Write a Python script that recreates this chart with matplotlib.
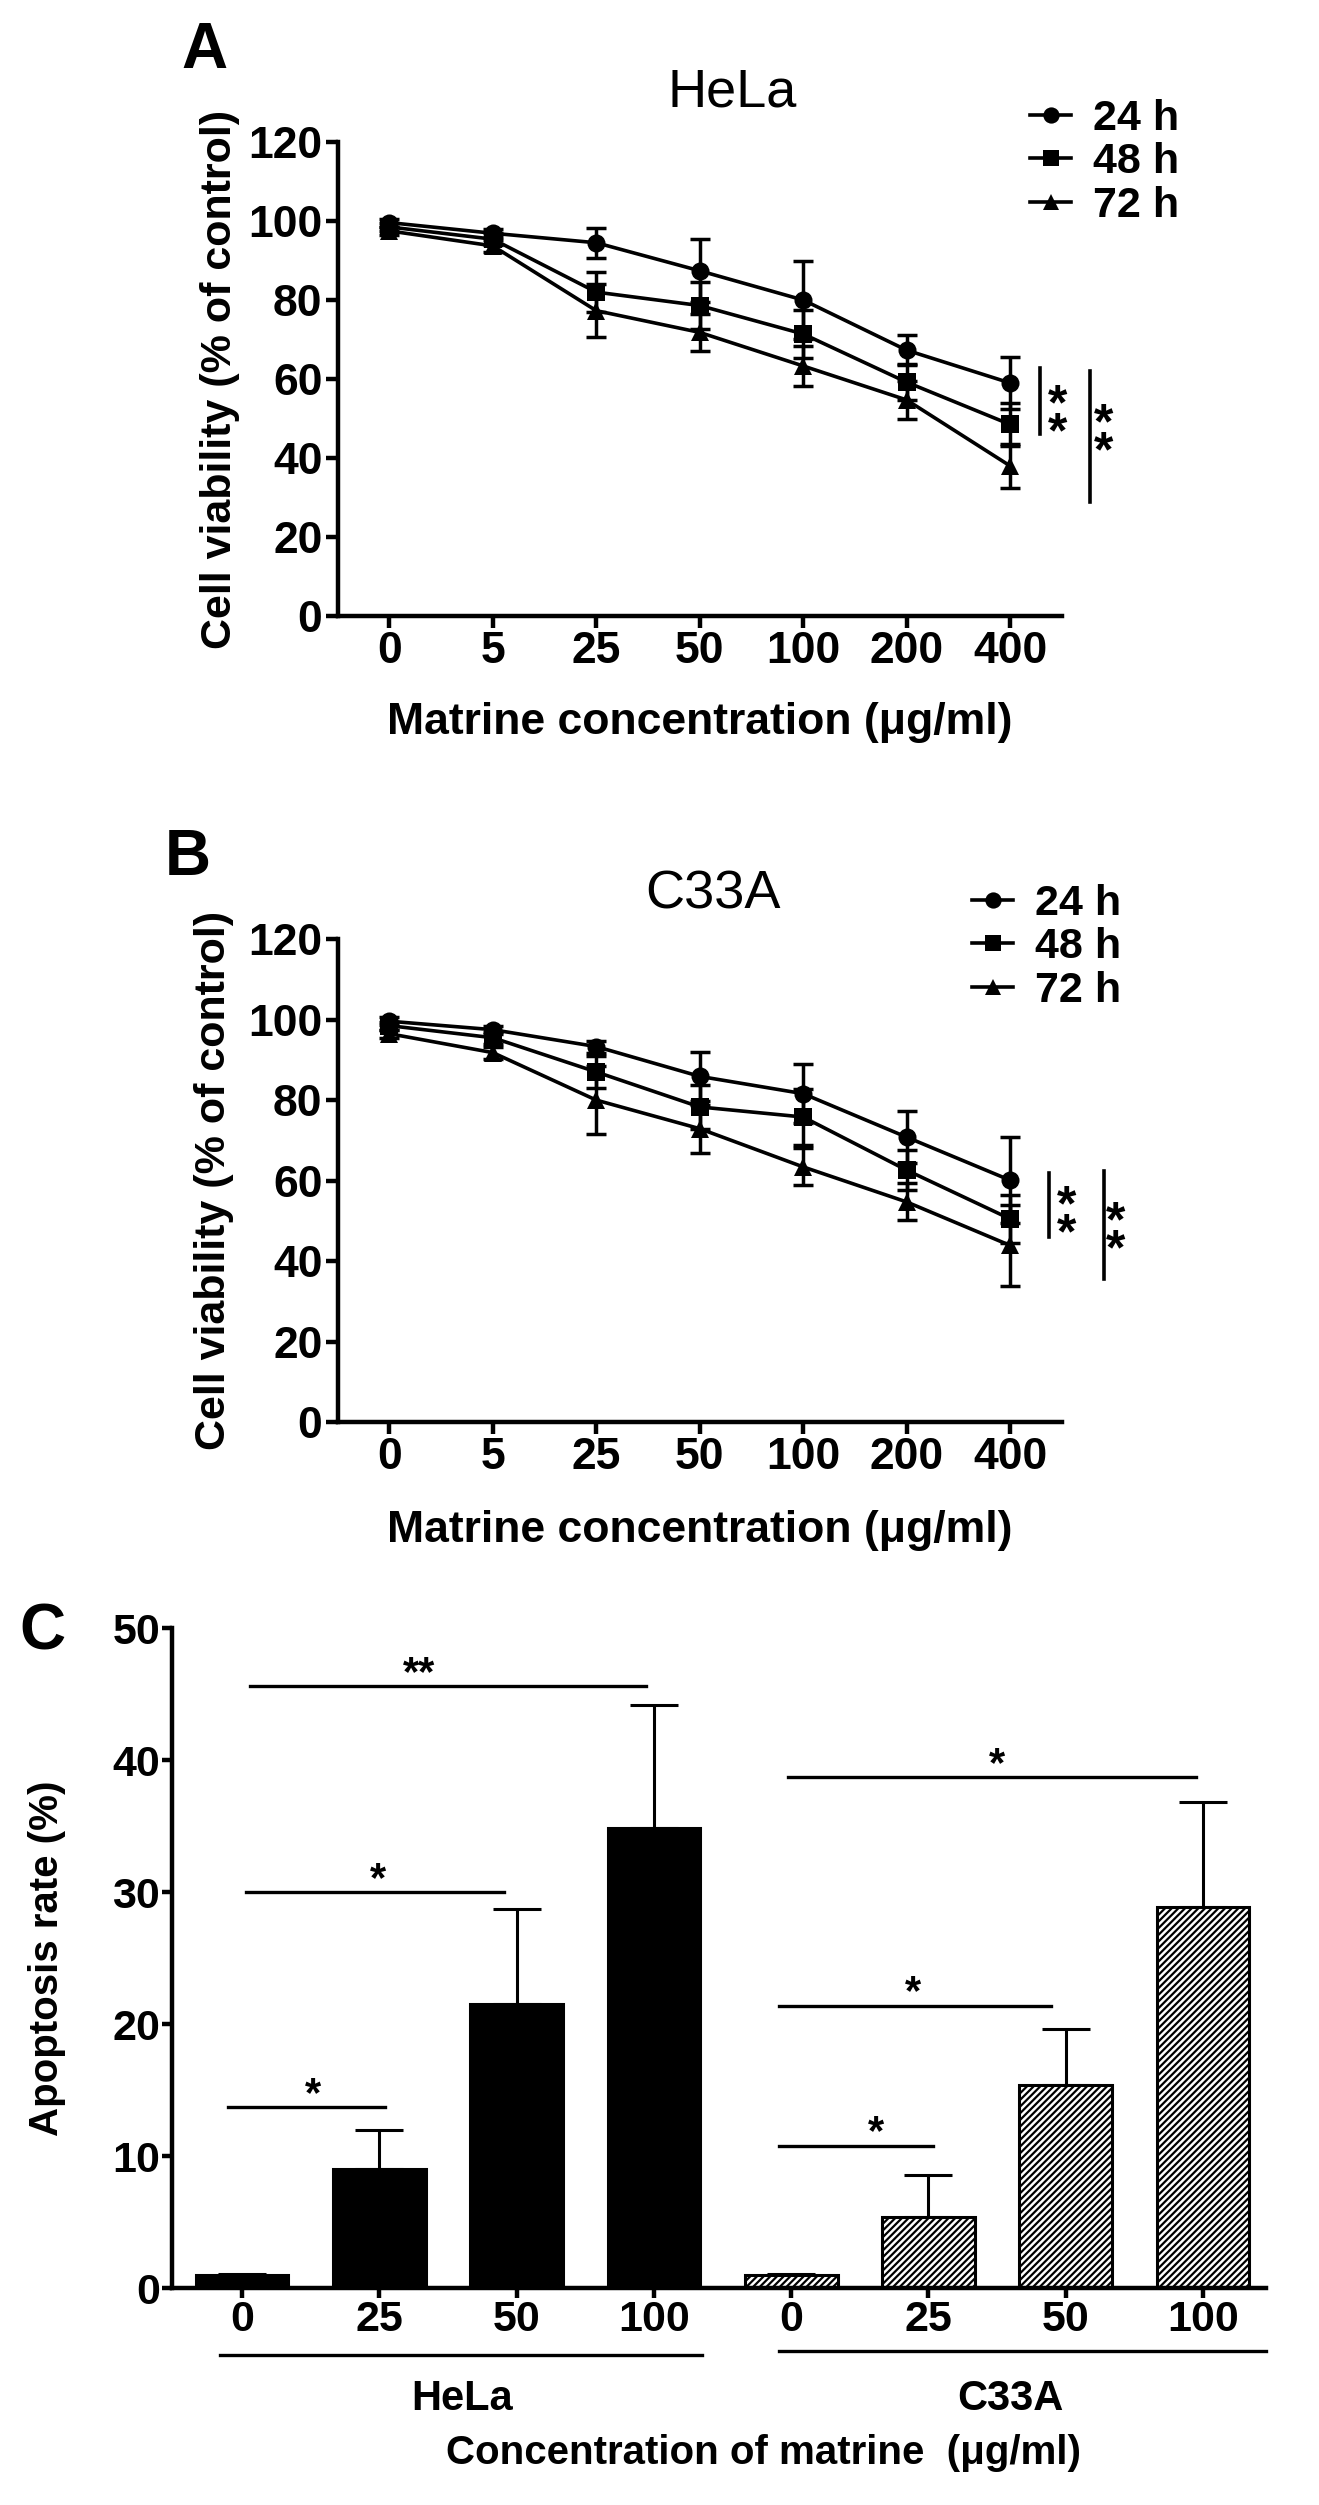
import numpy as np
import matplotlib
matplotlib.use('Agg')
import matplotlib.pyplot as plt

plt.rcParams['font.family'] = ['Liberation Sans', 'DejaVu Sans']
plt.rcParams['hatch.linewidth'] = 1.6

# x categories for the viability panels
conc_labels = ['0', '5', '25', '50', '100', '200', '400']

# HeLa viability (% of control)
hela_24 = [99.6, 96.9, 94.5, 87.4, 80.0, 67.3, 59.0]
hela_24_err = [1.0, 1.0, 3.8, 8.0, 9.8, 3.8, 6.5]
hela_48 = [98.5, 95.4, 82.0, 78.6, 71.4, 59.2, 48.5]
hela_48_err = [1.0, 1.5, 5.0, 6.0, 6.0, 4.5, 5.5]
hela_72 = [97.5, 93.7, 77.3, 71.8, 63.3, 54.7, 38.0]
hela_72_err = [1.0, 1.5, 6.7, 4.6, 5.0, 4.7, 5.5]

# C33A viability (% of control)
c33a_24 = [99.6, 97.5, 93.3, 85.9, 81.6, 70.8, 60.1]
c33a_24_err = [1.0, 1.0, 1.5, 6.0, 7.3, 6.4, 10.7]
c33a_48 = [98.5, 95.5, 87.0, 78.3, 75.8, 62.6, 50.5]
c33a_48_err = [1.0, 1.5, 4.0, 5.5, 7.0, 5.0, 6.0]
c33a_72 = [96.5, 91.8, 80.0, 72.9, 63.4, 54.7, 43.9]
c33a_72_err = [1.0, 1.5, 8.4, 6.0, 4.6, 4.6, 10.0]

time_labels = ['24 h', '48 h', '72 h']
time_markers = ['o', 's', '^']

# apoptosis rate (%)
apop_doses = ['0', '25', '50', '100']
hela_apop = [1.0, 9.0, 21.5, 34.9]
hela_apop_err = [0.1, 3.0, 7.2, 9.3]
c33a_apop = [1.0, 5.4, 15.4, 28.9]
c33a_apop_err = [0.1, 3.2, 4.2, 7.9]

# significance bars in panel C: (from bar, to bar, height, star position, label)
apop_sig = [(-0.1, 1.04, 13.7, 0.52, '*'), (0.03, 1.91, 30.0, 0.99, '*'),
            (0.06, 2.94, 45.6, 1.29, '**'), (3.91, 5.03, 10.8, 4.62, '*'),
            (3.91, 5.89, 21.4, 4.89, '*'), (3.98, 6.95, 38.7, 5.5, '*')]

fig = plt.figure(figsize=(13.19, 25.05), dpi=100)

LW_AX = 3.2


def style_axes(ax, fs, ticklen, pad):
    for s in ['top', 'right']:
        ax.spines[s].set_visible(False)
    for s in ['left', 'bottom']:
        ax.spines[s].set_linewidth(LW_AX)
    ax.tick_params(width=LW_AX, length=ticklen, pad=pad, labelsize=fs, direction='out')
    for t in ax.get_xticklabels() + ax.get_yticklabels():
        t.set_fontweight('bold')


def star_text(ax, x, y, s, fs):
    # put the visual centre of the asterisk at (x, y)
    ax.annotate(s, (x, y), xytext=(0, -0.57 * fs), textcoords='offset points',
                ha='center', va='baseline', fontsize=fs, fontweight='bold',
                annotation_clip=False)


def stacked_stars(ax, x, y, fs):
    # two asterisks one above the other, centred on (x, y)
    ax.annotate('*\n*', (x, y), xytext=(0, -0.225 * fs), textcoords='offset points',
                ha='center', va='center', fontsize=fs, fontweight='bold',
                linespacing=0.5, annotation_clip=False)


def viability_panel(ax, series, errs, title, title_xy, leg_xy, letter, letter_xy,
                    sig, ylab_x):
    x = np.arange(len(conc_labels))
    handles = []
    for vals, err, mk, lab in zip(series, errs, time_markers, time_labels):
        ax.errorbar(x, vals, yerr=err, fmt='none', ecolor='black', elinewidth=2.5,
                    capsize=7.5, capthick=2.5, zorder=3)
        h, = ax.plot(x, vals, color='black', lw=2.6, marker=mk, markersize=13,
                     markeredgewidth=0, label=lab, zorder=4)
        handles.append(h)
    ax.set_xlim(-0.5, 6.5)
    ax.set_ylim(0, 120)
    ax.set_yticks(range(0, 121, 20))
    ax.set_xticks(x)
    ax.set_xticklabels(conc_labels)
    style_axes(ax, 32, 8.5, 2.5)
    ax.set_xlabel('Matrine concentration (\u03bcg/ml)', fontsize=32, fontweight='bold')
    ax.xaxis.set_label_coords(0.5, -0.225)
    ax.xaxis.label.set_va('center')
    ax.set_ylabel('Cell viability (% of control)', fontsize=31, fontweight='bold')
    ax.yaxis.set_label_coords(ylab_x, 0.5)
    ax.yaxis.label.set_va('center')

    fig.text(title_xy[0], title_xy[1], title, fontsize=39, ha='center', va='center')
    fig.text(letter_xy[0], letter_xy[1], letter, fontsize=46, fontweight='bold',
             ha='center', va='center')
    leg = ax.legend(handles=handles, loc='center left', bbox_to_anchor=leg_xy,
                    bbox_transform=fig.transFigure, frameon=False, fontsize=31,
                    handlelength=0.95, handletextpad=0.5, labelspacing=0.08,
                    borderpad=0, borderaxespad=0, markerscale=0.9)
    for t in leg.get_texts():
        t.set_fontweight('bold')

    # significance brackets with stacked asterisks
    for (xl, y0, y1, xs, ys) in sig:
        ax.plot([xl, xl], [y0, y1], color='black', lw=2.6, clip_on=False)
        stacked_stars(ax, xs, ys, 36)


axA = fig.add_axes([0.256, 0.7541, 0.549, 0.1892])
viability_panel(axA, [hela_24, hela_48, hela_72], [hela_24_err, hela_48_err, hela_72_err],
                'HeLa', (0.555, 0.9629), (0.781, 0.9352), 'A', (0.1547, 0.9796),
                [(6.29, 62.8, 46.1, 6.46, 52.3), (6.77, 62.0, 28.9, 6.90, 47.7)],
                -0.163)

axB = fig.add_axes([0.256, 0.4323, 0.549, 0.1928])
viability_panel(axB, [c33a_24, c33a_48, c33a_72], [c33a_24_err, c33a_48_err, c33a_72_err],
                'C33A', (0.5406, 0.6431), (0.737, 0.6218), 'B', (0.1425, 0.6575),
                [(6.38, 61.9, 46.0, 6.55, 52.8), (6.91, 62.5, 35.6, 7.02, 48.7)],
                -0.171)

# ---- panel C: apoptosis bars ----
axC = fig.add_axes([0.1304, 0.0866, 0.8296, 0.2634])
xh = np.arange(4)
xc = np.arange(4, 8)
bw = 0.675
axC.bar(xh, hela_apop, width=bw, color='black', edgecolor='black', linewidth=2.2, zorder=2)
axC.bar(xc, c33a_apop, width=bw, color='white', edgecolor='black', linewidth=2.2,
        hatch='/////', zorder=2)
axC.errorbar(xh, hela_apop, yerr=[np.zeros(4), hela_apop_err], fmt='none', ecolor='black',
             elinewidth=2.2, capsize=17, capthick=2.2, zorder=1)
axC.errorbar(xc, c33a_apop, yerr=[np.zeros(4), c33a_apop_err], fmt='none', ecolor='black',
             elinewidth=2.2, capsize=17, capthick=2.2, zorder=1)
axC.set_xlim(-0.51, 7.46)
axC.set_ylim(0, 50)
axC.set_yticks(range(0, 51, 10))
axC.set_xticks(np.arange(8))
axC.set_xticklabels(apop_doses + apop_doses)
style_axes(axC, 31, 7, 1.5)
axC.set_ylabel('Apoptosis rate (%)', fontsize=29, fontweight='bold')
axC.yaxis.set_label_coords(-0.114, 0.5)
axC.yaxis.label.set_va('center')

for (x0, x1, h, xs, s) in apop_sig:
    axC.plot([x0, x1], [h, h], color='black', lw=2.4)
    star_text(axC, xs, h + 1.9, s, 30)

# group underlines and labels below the axis
axC.plot([-0.16, 3.35], [-5.1, -5.1], color='black', lw=2.4, clip_on=False)
axC.plot([3.91, 7.46], [-4.75, -4.75], color='black', lw=2.4, clip_on=False)
axC.text(1.6, -8.4, 'HeLa', fontsize=30, fontweight='bold', ha='center', va='center')
axC.text(5.6, -8.4, 'C33A', fontsize=30, fontweight='bold', ha='center', va='center')
axC.text(3.8, -12.5, 'Concentration of matrine  (\u03bcg/ml)', fontsize=29,
         fontweight='bold', ha='center', va='center')
fig.text(0.0318, 0.3485, 'C', fontsize=46, fontweight='bold', ha='center', va='center')

fig.savefig('out.png', dpi=100, facecolor='white')
